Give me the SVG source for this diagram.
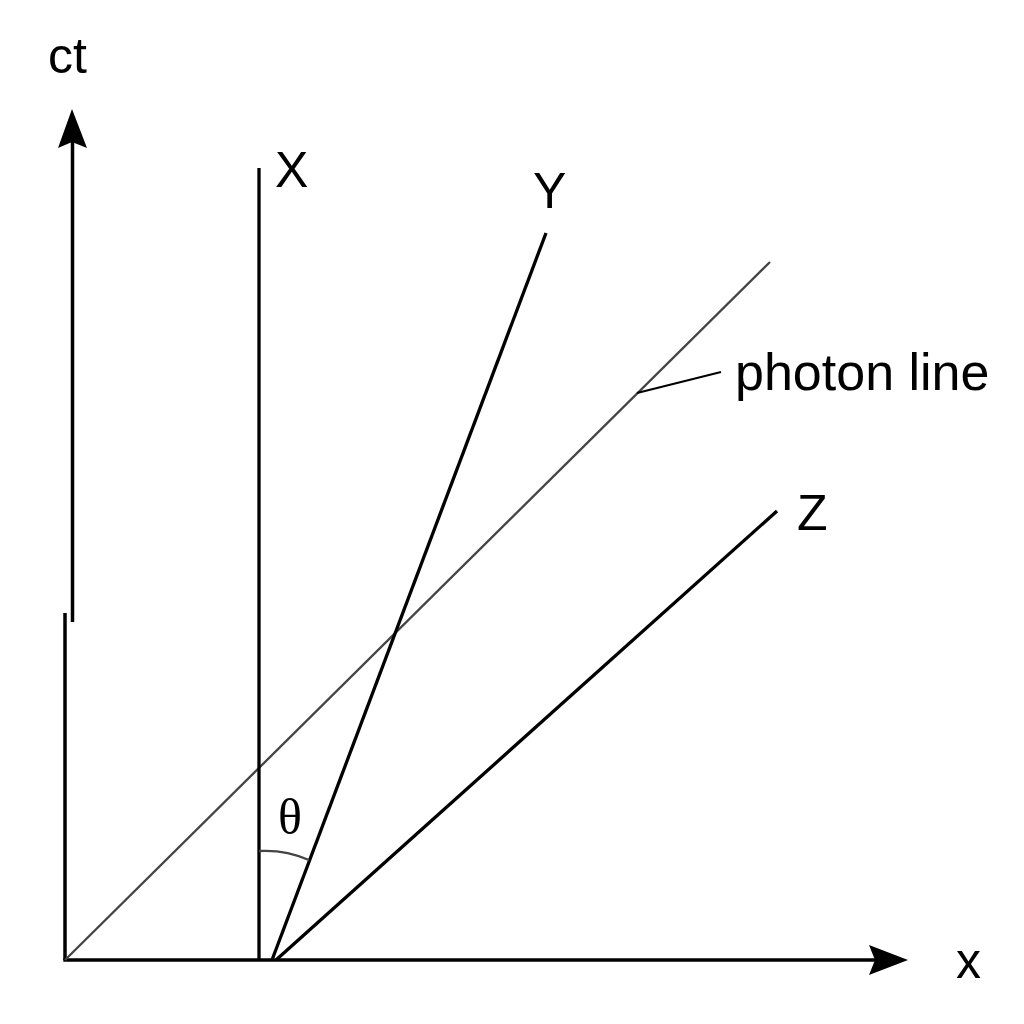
<svg xmlns="http://www.w3.org/2000/svg" width="1024" height="1024" viewBox="0 0 1024 1024">
<style>
.ax{stroke:#000;stroke-width:3.5;fill:none}
.wl{stroke:#000;stroke-width:3.3;fill:none;stroke-linecap:butt}
.ph{stroke:#444;stroke-width:2.3;fill:none}
.lbl{font-family:"Liberation Sans",Arial,sans-serif;font-size:50px;fill:#000}
.th{font-family:"Liberation Serif","Times New Roman",serif;font-size:50px;fill:#000}
</style>
<rect width="1024" height="1024" fill="#fff"/>
<g id="axes">
<line class="ax" x1="65" y1="613" x2="65" y2="960"/>
<line class="ax" x1="72.5" y1="622" x2="72.5" y2="140"/>
<polygon points="72,109 87,148 72,142 58,148" fill="#000"/>
<line class="ax" x1="63.3" y1="960" x2="878" y2="960"/>
<polygon points="908,960 869,975 875,960 869,945" fill="#000"/>
</g>
<g id="connectors">
<line id="photon" class="ph" x1="65" y1="960" x2="770" y2="262"/>
<line id="worldX" class="wl" x1="259" y1="168" x2="259" y2="960"/>
<line id="worldY" class="wl" x1="272" y1="960" x2="546" y2="233"/>
<line id="worldZ" class="wl" x1="276" y1="960" x2="777" y2="511"/>
<line id="leader" stroke="#000" stroke-width="2" x1="637" y1="393" x2="721" y2="372"/>
<path id="arc" class="ph" d="M259,851 A108,108 0 0 1 309,860"/>
</g>
<g id="labels">
<text class="lbl" x="48" y="73">ct</text>
<text class="lbl" x="275" y="187">X</text>
<text class="lbl" x="533" y="208">Y</text>
<text class="lbl" x="797" y="530">Z</text>
<text class="lbl" x="956" y="978">x</text>
<text class="lbl" x="735" y="390" style="font-size:52px">photon line</text>
<text class="th" x="290" y="834" text-anchor="middle">θ</text>
</g>
</svg>
